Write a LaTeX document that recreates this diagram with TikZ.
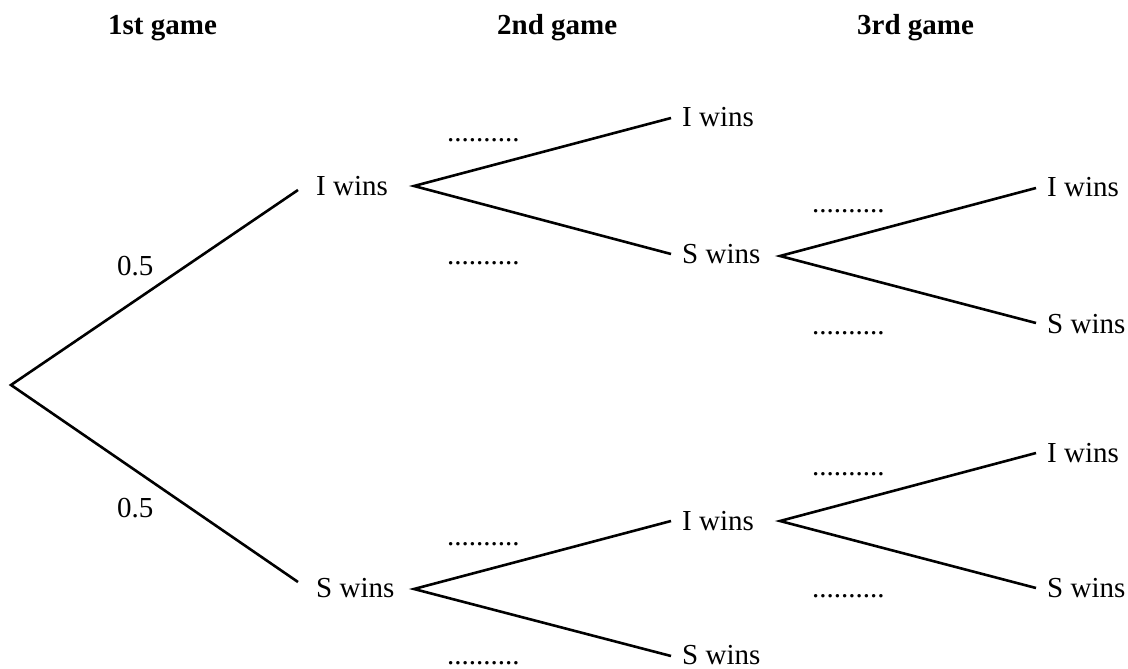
\documentclass[tikz,border=0pt]{standalone}
\usepackage{fontspec}
\setmainfont{Liberation Serif}
\begin{document}
\begin{tikzpicture}[x=1pt,y=-1pt,
  branch/.style={line width=2.6pt, line join=miter},
  lab/.style={anchor=base west, inner sep=0pt, font=\fontsize{29}{34}\selectfont},
  head/.style={lab, font=\fontsize{29}{34}\selectfont\bfseries},
  blank/.style={lab}]
\useasboundingbox (0,0) rectangle (1128,669);

% column headings
\node[head] (h1) at (108,35) {1st game};
\node[head] (h2) at (497,35) {2nd game};
\node[head] (h3) at (857,35) {3rd game};

% outcome labels
\node[lab] (a)   at (316,195) {I wins};
\node[lab] (b)   at (316,597) {S wins};
\node[lab] (aa)  at (682,126) {I wins};
\node[lab] (ab)  at (682,263) {S wins};
\node[lab] (ba)  at (682,530) {I wins};
\node[lab] (bb)  at (682,664) {S wins};
\node[lab] (aba) at (1047,196) {I wins};
\node[lab] (abb) at (1047,333) {S wins};
\node[lab] (baa) at (1047,462) {I wins};
\node[lab] (bab) at (1047,597) {S wins};

% branch points and branch ends
\coordinate (r)   at (11,385);
\coordinate (ea)  at (298,190);
\coordinate (eb)  at (298,582);
\coordinate (fa)  at (414,186);
\coordinate (fb)  at (414,589);
\coordinate (eaa) at (671,118);
\coordinate (eab) at (671,254);
\coordinate (eba) at (671,521);
\coordinate (ebb) at (671,656);
\coordinate (fab) at (780,256);
\coordinate (fba) at (780,521);
\coordinate (eaba) at (1036,188);
\coordinate (eabb) at (1036,323);
\coordinate (ebaa) at (1036,453);
\coordinate (ebab) at (1036,588);

\draw[branch] (ea) -- (r) -- (eb);
\draw[branch] (eaa) -- (fa) -- (eab);
\draw[branch] (eba) -- (fb) -- (ebb);
\draw[branch] (eaba) -- (fab) -- (eabb);
\draw[branch] (ebaa) -- (fba) -- (ebab);

% probabilities
\node[lab] (p1) at (117,275) {0.5};
\node[lab] (p2) at (117,517) {0.5};

% probabilities to be filled in
\node[blank] (d1) at (447,142) {..........};
\node[blank] (d2) at (447,264) {..........};
\node[blank] (d3) at (447,545) {..........};
\node[blank] (d4) at (447,664) {..........};
\node[blank] (d5) at (812,212) {..........};
\node[blank] (d6) at (812,334) {..........};
\node[blank] (d7) at (812,475) {..........};
\node[blank] (d8) at (812,597) {..........};
\end{tikzpicture}
\end{document}
